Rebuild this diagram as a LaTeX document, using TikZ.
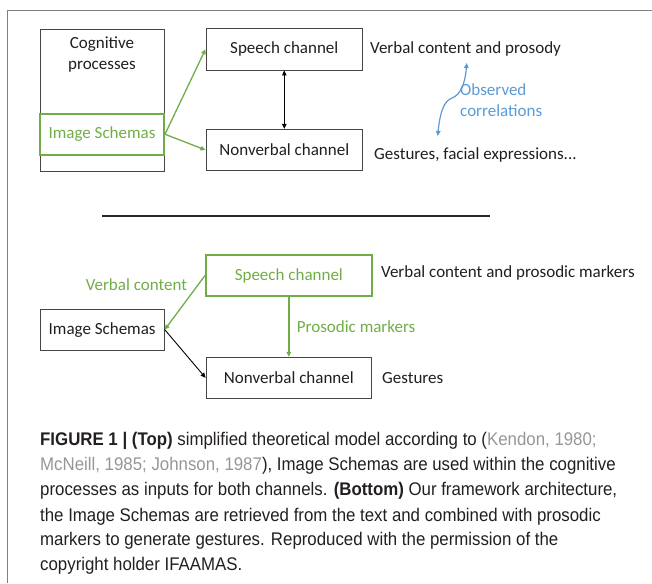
\documentclass[tikz,border=0pt]{standalone}
\usepackage{fontspec}
\setmainfont{Carlito}
\newfontfamily\capfont[FakeStretch=0.92]{Liberation Sans}
\usetikzlibrary{arrows.meta}
\definecolor{ggreen}{RGB}{112,173,71}
\definecolor{gblue}{RGB}{91,155,213}
\definecolor{boxgray}{RGB}{70,70,70}
\definecolor{framegray}{RGB}{128,128,128}
\definecolor{refgray}{RGB}{150,150,150}
\definecolor{captext}{RGB}{35,31,32}
\begin{document}
\begin{tikzpicture}[x=1pt,y=-1pt,
  box/.style={draw=boxgray, line width=0.9pt, inner sep=0pt},
  gbox/.style={draw=ggreen, line width=2pt, inner sep=0pt},
  lbl/.style={font=\fontsize{17}{21}\selectfont, inner sep=0pt, text=black!88},
  arr/.style={-{Triangle[length=5pt,width=4.5pt]}, line width=0.9pt},
  capl/.style={font=\capfont\fontsize{18.3}{25}\selectfont, inner sep=0pt, anchor=base west, text=captext}
]
\useasboundingbox (0,0) rectangle (652,583);
% frame
\coordinate (fbl) at (7.5,583);
\coordinate (ftl) at (7.5,10.5);
\coordinate (ftr) at (652,10.5);
\draw[framegray, line width=1.5pt] (fbl) -- (ftl) -- (ftr);

% ---------- top ----------
\node[box, minimum width=124, minimum height=141.5] (cog) at (102,100.25) {};
\node[lbl, align=center] (cogtxt) at (102,54) {Cognitive\\processes};
\node[gbox, minimum width=124, minimum height=40.5, lbl, text=ggreen] (is1) at (102,134.25) {Image Schemas};
\node[box, minimum width=156.7, minimum height=41.7, lbl] (sp1) at (284.3,49.2) {Speech channel};
\node[box, minimum width=156.7, minimum height=41.4, lbl] (nv1) at (284.3,150) {Nonverbal channel};
\draw[arr, ggreen, line width=1.3pt] (is1.east) -- (sp1.west);
\draw[arr, ggreen, line width=1.3pt] (is1.east) -- (nv1.west);
\draw[{Triangle[length=5pt,width=4.5pt]}-{Triangle[length=5pt,width=4.5pt]}, line width=0.9pt] (sp1.south) -- (nv1.north);
\node[lbl, anchor=west] (vc1) at (370,49.3) {Verbal content and prosody};
\node[lbl, anchor=west] (ge1) at (374,155) {Gestures, facial expressions...};
\coordinate (ctop) at (466.7,63);
\coordinate (cbot) at (437.7,136);
\draw[gblue, line width=1.2pt, {Triangle[length=5pt,width=4.5pt]}-{Triangle[length=5pt,width=4.5pt]}]
  (cbot) .. controls (440,112) and (444,101) .. (452,98) .. controls (460,95) and (465,85) .. (ctop);
\node[lbl, text=gblue, align=left, anchor=west] (obs) at (460,100.4) {Observed\\correlations};

% separator
\coordinate (hl) at (102,216);
\coordinate (hr) at (490,216);
\draw[line width=1.2pt, black!85] (hl) -- (hr);

% ---------- bottom ----------
\node[gbox, minimum width=165.7, minimum height=41, lbl, text=ggreen] (sp2) at (288.85,275.5) {Speech channel};
\node[box, minimum width=124.3, minimum height=40.7, lbl] (is2) at (102.15,329.65) {Image Schemas};
\node[box, minimum width=165.7, minimum height=41, lbl] (nv2) at (288.85,377.8) {Nonverbal channel};
\draw[arr, ggreen, line width=1.3pt] (sp2.west) -- (is2.east);
\draw[arr] (is2.east) -- (nv2.west);
\draw[arr, ggreen, line width=1.3pt] (sp2.south) -- (nv2.north);
\node[lbl, text=ggreen] (vclab) at (136.4,285) {Verbal content};
\node[lbl, text=ggreen, anchor=west] (pmlab) at (296.7,327) {Prosodic markers};
\node[lbl, anchor=west] (vc2) at (381,273) {Verbal content and prosodic markers};
\node[lbl, anchor=west] (ge2) at (382,378) {Gestures};

% ---------- caption ----------
\node[capl] (cap1) at (40,445.5) {\textbf{FIGURE 1 | (Top)} simplified theoretical model according to (\textcolor{refgray}{Kendon, 1980;}};
\node[capl] (cap2) at (40,470.5) {\textcolor{refgray}{McNeill, 1985; Johnson, 1987}), Image Schemas are used within the cognitive};
\node[capl] (cap3) at (40,495.5) {processes as inputs for both channels. \textbf{(Bottom)} Our framework architecture,};
\node[capl] (cap4) at (40,521) {the Image Schemas are retrieved from the text and combined with prosodic};
\node[capl] (cap5) at (40,545.5) {markers to generate gestures. Reproduced with the permission of the};
\node[capl] (cap6) at (40,570.5) {copyright holder IFAAMAS.};
\end{tikzpicture}
\end{document}
